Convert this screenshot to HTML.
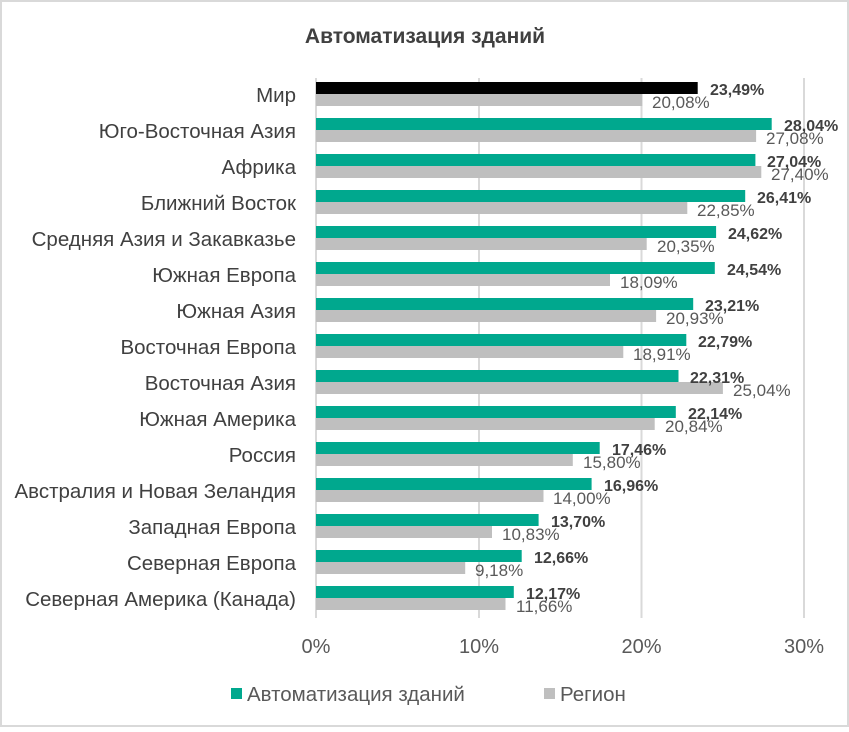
<!DOCTYPE html><html><head><meta charset="utf-8"><style>
body{margin:0;background:#fff;}
svg text{font-family:"Liberation Sans",sans-serif;}
</style></head><body>
<svg width="849" height="727" xmlns="http://www.w3.org/2000/svg">
<rect x="1" y="1" width="847" height="725" fill="#fff" stroke="#d9d9d9" stroke-width="2"/>
<text x="425" y="43" text-anchor="middle" font-size="21" font-weight="bold" fill="#404040">Автоматизация зданий</text>
<g stroke="#d9d9d9" stroke-width="2">
<line x1="316" y1="78" x2="316" y2="618"/><line x1="479" y1="78" x2="479" y2="618"/>
<line x1="641.5" y1="78" x2="641.5" y2="618"/><line x1="804" y1="78" x2="804" y2="618"/>
</g>
<g font-size="20.5" fill="#404040" text-anchor="end">
<text x="296" y="102">Мир</text>
<text x="296" y="138">Юго-Восточная Азия</text>
<text x="296" y="174">Африка</text>
<text x="296" y="210">Ближний Восток</text>
<text x="296" y="246">Средняя Азия и Закавказье</text>
<text x="296" y="282">Южная Европа</text>
<text x="296" y="318">Южная Азия</text>
<text x="296" y="354">Восточная Европа</text>
<text x="296" y="390">Восточная Азия</text>
<text x="296" y="426">Южная Америка</text>
<text x="296" y="462">Россия</text>
<text x="296" y="498">Австралия и Новая Зеландия</text>
<text x="296" y="534">Западная Европа</text>
<text x="296" y="570">Северная Европа</text>
<text x="296" y="606">Северная Америка (Канада)</text>
</g>
<g fill="#00a88e">
<rect x="316" y="82" width="381.7" height="12" fill="#000"/>
<rect x="316" y="118" width="455.7" height="12"/>
<rect x="316" y="154" width="439.4" height="12"/>
<rect x="316" y="190" width="429.2" height="12"/>
<rect x="316" y="226" width="400.1" height="12"/>
<rect x="316" y="262" width="398.8" height="12"/>
<rect x="316" y="298" width="377.2" height="12"/>
<rect x="316" y="334" width="370.3" height="12"/>
<rect x="316" y="370" width="362.5" height="12"/>
<rect x="316" y="406" width="359.8" height="12"/>
<rect x="316" y="442" width="283.7" height="12"/>
<rect x="316" y="478" width="275.6" height="12"/>
<rect x="316" y="514" width="222.6" height="12"/>
<rect x="316" y="550" width="205.7" height="12"/>
<rect x="316" y="586" width="197.8" height="12"/>
</g>
<g fill="#bfbfbf">
<rect x="316" y="94" width="326.3" height="12"/>
<rect x="316" y="130" width="440.1" height="12"/>
<rect x="316" y="166" width="445.3" height="12"/>
<rect x="316" y="202" width="371.3" height="12"/>
<rect x="316" y="238" width="330.7" height="12"/>
<rect x="316" y="274" width="294.0" height="12"/>
<rect x="316" y="310" width="340.1" height="12"/>
<rect x="316" y="346" width="307.3" height="12"/>
<rect x="316" y="382" width="406.9" height="12"/>
<rect x="316" y="418" width="338.7" height="12"/>
<rect x="316" y="454" width="256.8" height="12"/>
<rect x="316" y="490" width="227.5" height="12"/>
<rect x="316" y="526" width="176.0" height="12"/>
<rect x="316" y="562" width="149.2" height="12"/>
<rect x="316" y="598" width="189.5" height="12"/>
</g>
<g font-size="17" fill="#595959">
<text x="652" y="108">20,08%</text>
<text x="766" y="144">27,08%</text>
<text x="771" y="180">27,40%</text>
<text x="697" y="216">22,85%</text>
<text x="657" y="252">20,35%</text>
<text x="620" y="288">18,09%</text>
<text x="666" y="324">20,93%</text>
<text x="633" y="360">18,91%</text>
<text x="733" y="396">25,04%</text>
<text x="665" y="432">20,84%</text>
<text x="583" y="468">15,80%</text>
<text x="553" y="504">14,00%</text>
<text x="502" y="540">10,83%</text>
<text x="475" y="576">9,18%</text>
<text x="516" y="612">11,66%</text>
</g>
<g font-size="16" font-weight="bold" fill="#404040">
<text x="710" y="95">23,49%</text>
<text x="784" y="131">28,04%</text>
<text x="767" y="167">27,04%</text>
<text x="757" y="203">26,41%</text>
<text x="728" y="239">24,62%</text>
<text x="727" y="275">24,54%</text>
<text x="705" y="311">23,21%</text>
<text x="698" y="347">22,79%</text>
<text x="690" y="383">22,31%</text>
<text x="688" y="419">22,14%</text>
<text x="612" y="455">17,46%</text>
<text x="604" y="491">16,96%</text>
<text x="551" y="527">13,70%</text>
<text x="534" y="563">12,66%</text>
<text x="526" y="599">12,17%</text>
</g>
<g font-size="20" fill="#595959" text-anchor="middle">
<text x="316" y="653">0%</text><text x="479" y="653">10%</text><text x="641.5" y="653">20%</text><text x="804" y="653">30%</text>
</g>
<rect x="231" y="688" width="11" height="11" fill="#00a88e"/>
<text x="247" y="701" font-size="20.5" fill="#595959">Автоматизация зданий</text>
<rect x="544" y="688" width="11" height="11" fill="#bfbfbf"/>
<text x="560" y="701" font-size="20.5" fill="#595959">Регион</text>
</svg></body></html>
